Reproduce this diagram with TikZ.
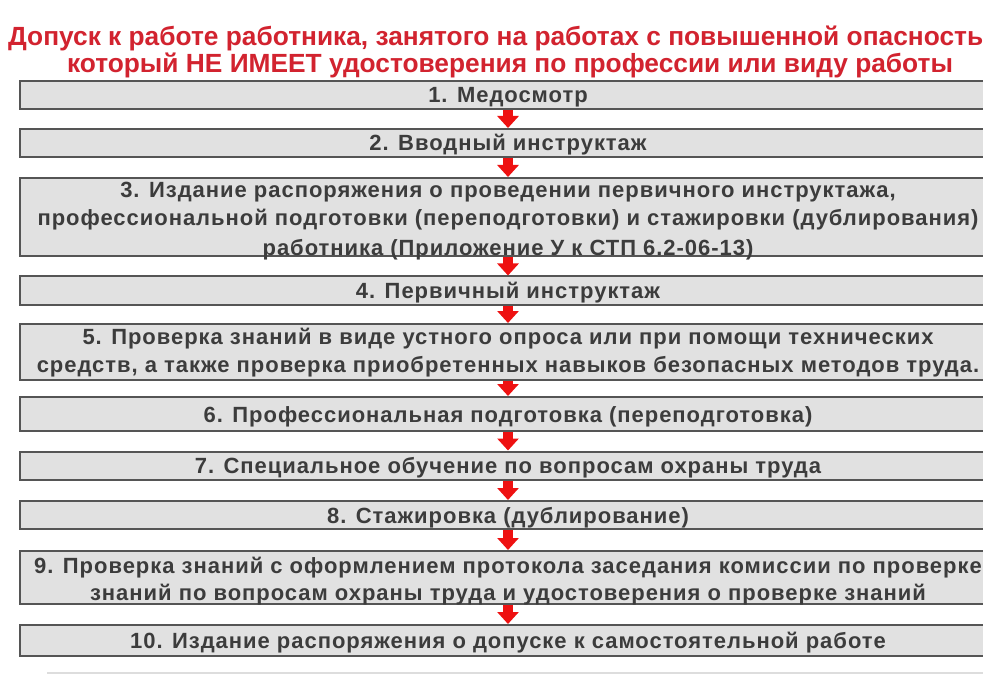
\documentclass[tikz,border=0pt]{standalone}
\usepackage{fontspec}
\setmainfont{Liberation Sans}
\newfontfamily\boxfont{Liberation Sans}[LetterSpace=4.4]
\usetikzlibrary{arrows.meta}
\definecolor{titlered}{HTML}{D2232F}
\definecolor{boxfill}{HTML}{E1E1E1}
\definecolor{boxline}{HTML}{555555}
\definecolor{boxtext}{HTML}{3C3C3C}
\definecolor{arrowred}{HTML}{EE1111}
\definecolor{rulegray}{HTML}{DDDDDD}
\newcommand\myupstrut{\rule{0pt}{22pt}}
\newcommand\mydownstrut{\rule[-6pt]{0pt}{6pt}}
\begin{document}
\begin{tikzpicture}[x=1pt,y=-1pt,
  stepbox/.style={draw=boxline, line width=2pt, fill=boxfill, minimum width=976pt,
    inner sep=0pt, align=center, text=boxtext,
    font=\boxfont\bfseries\fontsize{22}{28}\selectfont,
    execute at begin node=\myupstrut, execute at end node=\mydownstrut},
  titletext/.style={inner sep=0pt, text=titlered, font=\bfseries\fontsize{26.3}{28}\selectfont},
  flowarrow/.style={draw=arrowred, line width=10pt, -{Triangle[width=21pt,length=12pt]}}
]
\useasboundingbox[fill=white] (0,0) rectangle (983,679);
\clip (0,0) rectangle (983,679);

\node[titletext, anchor=west] (t1) at (8,38.5) {Допуск к работе работника, занятого на работах с повышенной опасность};
\node[titletext] (t2) at (510,65) {который НЕ ИМЕЕТ удостоверения по профессии или виду работы};

\node[stepbox, minimum height=26pt] (b1) at (508,95) {1. Медосмотр};
\node[stepbox, minimum height=28pt] (b2) at (508,143) {2. Вводный инструктаж};
\node[stepbox, minimum height=78pt, text height=76pt, text depth=0pt, font=\boxfont\bfseries\fontsize{22}{29}\selectfont] (b3) at (508,217) {3. Издание распоряжения о проведении первичного инструктажа,\\профессиональной подготовки (переподготовки) и стажировки (дублирования)\\работника (Приложение У к СТП 6.2-06-13)};
\node[stepbox, minimum height=25pt] (b4) at (508,290.5) {4. Первичный инструктаж};
\node[stepbox, minimum height=56pt, text height=40pt, text depth=0pt] (b5) at (508,352) {5. Проверка знаний в виде устного опроса или при помощи технических\\средств, а также проверка приобретенных навыков безопасных методов труда.};
\node[stepbox, minimum height=34pt] (b6) at (508,414) {6. Профессиональная подготовка (переподготовка)};
\node[stepbox, minimum height=27pt] (b7) at (508,465.5) {7. Специальное обучение по вопросам охраны труда};
\node[stepbox, minimum height=28pt] (b8) at (508,515) {8. Стажировка (дублирование)};
\node[stepbox, minimum height=53pt, text height=45pt, text depth=0pt, font=\boxfont\bfseries\fontsize{22}{27}\selectfont] (b9) at (508,577.5) {9. Проверка знаний с оформлением протокола заседания комиссии по проверке\\знаний по вопросам охраны труда и удостоверения о проверке знаний};
\node[stepbox, minimum height=31pt] (b10) at (508,640.5) {10. Издание распоряжения о допуске к самостоятельной работе};

\draw[flowarrow] (b1.south) -- (b2.north);
\draw[flowarrow] (b2.south) -- (b3.north);
\draw[flowarrow] (b3.south) -- (b4.north);
\draw[flowarrow] (b4.south) -- (b5.north);
\draw[flowarrow] (b5.south) -- (b6.north);
\draw[flowarrow] (b6.south) -- (b7.north);
\draw[flowarrow] (b7.south) -- (b8.north);
\draw[flowarrow] (b8.south) -- (b9.north);
\draw[flowarrow] (b9.south) -- (b10.north);

\coordinate (r1) at (47,673);
\coordinate (r2) at (983,673);
\draw[rulegray, line width=1.5pt] (r1) -- (r2);
\end{tikzpicture}
\end{document}
